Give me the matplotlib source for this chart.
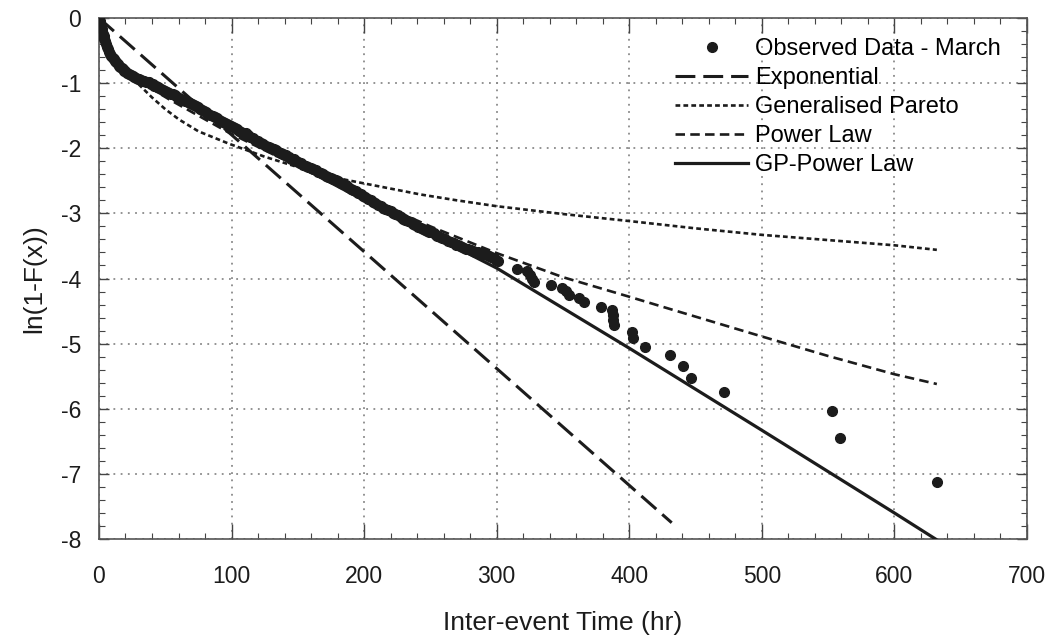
import matplotlib.pyplot as plt
from matplotlib.ticker import MultipleLocator

plt.rcParams['font.family'] = ['Liberation Sans', 'DejaVu Sans']

obs_x = [0, 0.5, 1, 1.5, 2, 2.5, 3, 3.5, 4, 4.6, 5.3, 6.1, 7, 7.8, 8.5, 9.4, 10.3, 11.2, 12, 13, 14, 15, 16,
         17, 17.9, 19, 20, 21.5, 23, 24.2, 25.5, 26.7, 27.9, 29.2, 30.5, 31.7, 33, 34.2, 35.5, 36.7, 38, 39.2,
         40.5, 41.8, 43, 44.2, 45.5, 46.8, 48, 49.5, 51, 52.5, 54, 55.5, 57, 58.8, 60.5, 62, 63.5, 65.2, 67,
         68.5, 70, 71.5, 73, 74.5, 76, 77.5, 79, 80.8, 82.5, 84, 85.7, 87.3, 89, 90.5, 92, 93.5, 95, 96.6,
         98.2, 99.6, 101, 102.5, 104, 105.5, 107, 109, 110.8, 112.4, 114, 116, 118, 120, 122, 124, 126, 128,
         130, 131.8, 133.5, 135.2, 137, 139, 141, 143, 145, 146.8, 148.5, 150.4, 152.2, 154, 156, 158, 160,
         161.8, 163.5, 165.4, 167.3, 169.2, 171, 173, 175, 176.8, 178.5, 180.5, 182.4, 184.2, 186, 188, 190,
         191.8, 193.5, 195.5, 197.4, 199.2, 201, 203, 205, 206.8, 208.5, 210.5, 212.5, 214.2, 216, 218, 220,
         221.8, 223.5, 225.5, 227.6, 229.3, 231, 233, 235, 236.8, 238.5, 240.5, 242.6, 244.3, 246, 247.5, 249,
         250.8, 252.5, 254, 255.2, 257, 259, 261, 263, 265.4, 267.8, 269.4, 271, 272.5, 274, 275.5, 277,
         278.6, 280.3, 282, 284, 286, 288, 289, 290, 291.5, 292.9, 294.5, 296, 297.6, 299.2, 301,
         315.5, 323, 325, 327, 328, 340.6, 349.4, 352, 354.4, 362, 366, 379, 387, 387.5, 388, 388.3,
         402, 403, 411.5, 430.5, 440.6, 446.6, 471.2, 552.9, 559.2, 632]
obs_y = [0, -0.04, -0.08, -0.12, -0.17, -0.21, -0.25, -0.28, -0.32, -0.36, -0.40, -0.44, -0.48, -0.52, -0.55,
         -0.58, -0.61, -0.63, -0.66, -0.68, -0.71, -0.73, -0.75, -0.77, -0.79, -0.81, -0.82, -0.84, -0.86,
         -0.88, -0.89, -0.91, -0.92, -0.93, -0.94, -0.95, -0.96, -0.97, -0.98, -0.98, -0.99, -1.01, -1.02,
         -1.04, -1.05, -1.06, -1.07, -1.09, -1.10, -1.12, -1.13, -1.15, -1.16, -1.17, -1.19, -1.21, -1.23,
         -1.25, -1.26, -1.27, -1.29, -1.31, -1.32, -1.33, -1.35, -1.37, -1.39, -1.41, -1.43, -1.45, -1.47,
         -1.49, -1.51, -1.52, -1.54, -1.56, -1.58, -1.60, -1.61, -1.62, -1.64, -1.66, -1.67, -1.69, -1.71,
         -1.73, -1.75, -1.76, -1.77, -1.80, -1.82, -1.85, -1.87, -1.89, -1.92, -1.94, -1.96, -1.98, -2.00,
         -2.01, -2.03, -2.05, -2.07, -2.09, -2.11, -2.14, -2.16, -2.17, -2.19, -2.21, -2.23, -2.25, -2.27,
         -2.29, -2.31, -2.32, -2.34, -2.36, -2.38, -2.40, -2.42, -2.44, -2.45, -2.47, -2.49, -2.51, -2.53,
         -2.55, -2.57, -2.60, -2.62, -2.64, -2.66, -2.69, -2.71, -2.73, -2.75, -2.78, -2.80, -2.82, -2.84,
         -2.87, -2.89, -2.91, -2.93, -2.95, -2.97, -2.99, -3.01, -3.03, -3.05, -3.08, -3.10, -3.12, -3.14,
         -3.16, -3.18, -3.21, -3.23, -3.24, -3.26, -3.27, -3.28, -3.29, -3.30, -3.33, -3.35, -3.36, -3.38,
         -3.40, -3.42, -3.44, -3.46, -3.48, -3.49, -3.50, -3.51, -3.53, -3.54, -3.55, -3.56, -3.58, -3.59,
         -3.60, -3.61, -3.62, -3.62, -3.63, -3.64, -3.66, -3.67, -3.69, -3.71, -3.73,
         -3.85, -3.89, -3.95, -4.00, -4.05, -4.10, -4.14, -4.19, -4.25, -4.30, -4.36, -4.43, -4.48, -4.56,
         -4.64, -4.72, -4.82, -4.92, -5.05, -5.18, -5.34, -5.53, -5.75, -6.04, -6.45, -7.13]

# fitted models
exp_x = [0, 432]
exp_y = [0, -7.75]

gp_x = [0, 2, 5, 10, 15, 22.8, 30, 40, 50, 60.5, 75, 98, 125, 150, 180, 210, 242.6, 270, 300, 350, 401,
        450, 500, 550, 600, 632]
gp_y = [0, -0.2, -0.38, -0.58, -0.72, -0.87, -1.02, -1.22, -1.40, -1.56, -1.74, -1.93, -2.13, -2.29,
        -2.46, -2.58, -2.71, -2.80, -2.89, -3.01, -3.12, -3.23, -3.33, -3.41, -3.49, -3.56]

pl_x = [0, 3, 6, 10, 20, 35, 53, 75, 98, 150, 200, 250, 300, 350, 400, 431, 500, 550, 600, 632]
pl_y = [0, -0.30, -0.46, -0.58, -0.80, -1.03, -1.25, -1.50, -1.76, -2.28, -2.75, -3.20, -3.61, -3.98,
        -4.28, -4.47, -4.89, -5.19, -5.47, -5.62]

gppl_x = [0, 5, 10, 20, 40, 60, 100, 150, 200, 250, 300, 400, 500, 600, 631]
gppl_y = [0, -0.45, -0.64, -0.86, -1.08, -1.28, -1.70, -2.26, -2.80, -3.32, -3.84, -5.07, -6.33, -7.60, -8.0]

ink = '#1c1c1c'

fig = plt.figure(figsize=(10.53, 6.36), dpi=100)
ax = fig.add_axes([0.094, 0.1525, 0.8813, 0.8192])

ax.plot(obs_x, obs_y, 'o', color=ink, markersize=7, markeredgewidth=1.0,
        label='Observed Data - March', zorder=5)
ax.plot(exp_x, exp_y, color=ink, lw=2.2, linestyle=(0, (6.5, 2.6)), label='Exponential', zorder=4)
ax.plot(gp_x, gp_y, color=ink, lw=1.9, linestyle=(0, (1.8, 1.2)), label='Generalised Pareto', zorder=4)
ax.plot(pl_x, pl_y, color=ink, lw=1.9, linestyle=(0, (3.6, 2.0)), label='Power Law', zorder=4)
ax.plot(gppl_x, gppl_y, color=ink, lw=2.3, linestyle='-', label='GP-Power Law', zorder=4)

ax.set_xlim(0, 700)
ax.set_ylim(-8, 0)
ax.xaxis.set_major_locator(MultipleLocator(100))
ax.xaxis.set_minor_locator(MultipleLocator(20))
ax.yaxis.set_major_locator(MultipleLocator(1))
ax.yaxis.set_minor_locator(MultipleLocator(0.2))
ax.set_yticks(range(-8, 1))
ax.set_yticklabels([str(v) for v in range(-8, 1)])

ax.tick_params(which='both', direction='in', top=True, right=True, colors='#444444',
               labelcolor=ink, labelsize=16.5)
ax.tick_params(axis='x', which='major', length=11, width=1.0, pad=19)
ax.tick_params(axis='y', which='major', length=7, width=1.0, pad=13)
ax.tick_params(which='minor', length=4.5, width=0.8)

ax.grid(which='major', color='#8a8a8a', linestyle=(0, (1, 3)), linewidth=1.3)
for s in ax.spines.values():
    s.set_color('#555555')
    s.set_linewidth(1.2)

ax.set_xlabel('Inter-event Time (hr)', fontsize=19, color=ink, labelpad=16)
ax.set_ylabel('ln(1-F(x))', fontsize=19, color=ink, labelpad=10)

ax.legend(loc='upper left', bbox_to_anchor=(675 / 1053, 1 - 38 / 636), bbox_transform=fig.transFigure,
          frameon=False, fontsize=17, handlelength=3.1, handletextpad=0.3, labelspacing=0.3,
          borderpad=0, borderaxespad=0, numpoints=1)

plt.savefig('out.png', dpi=100)
